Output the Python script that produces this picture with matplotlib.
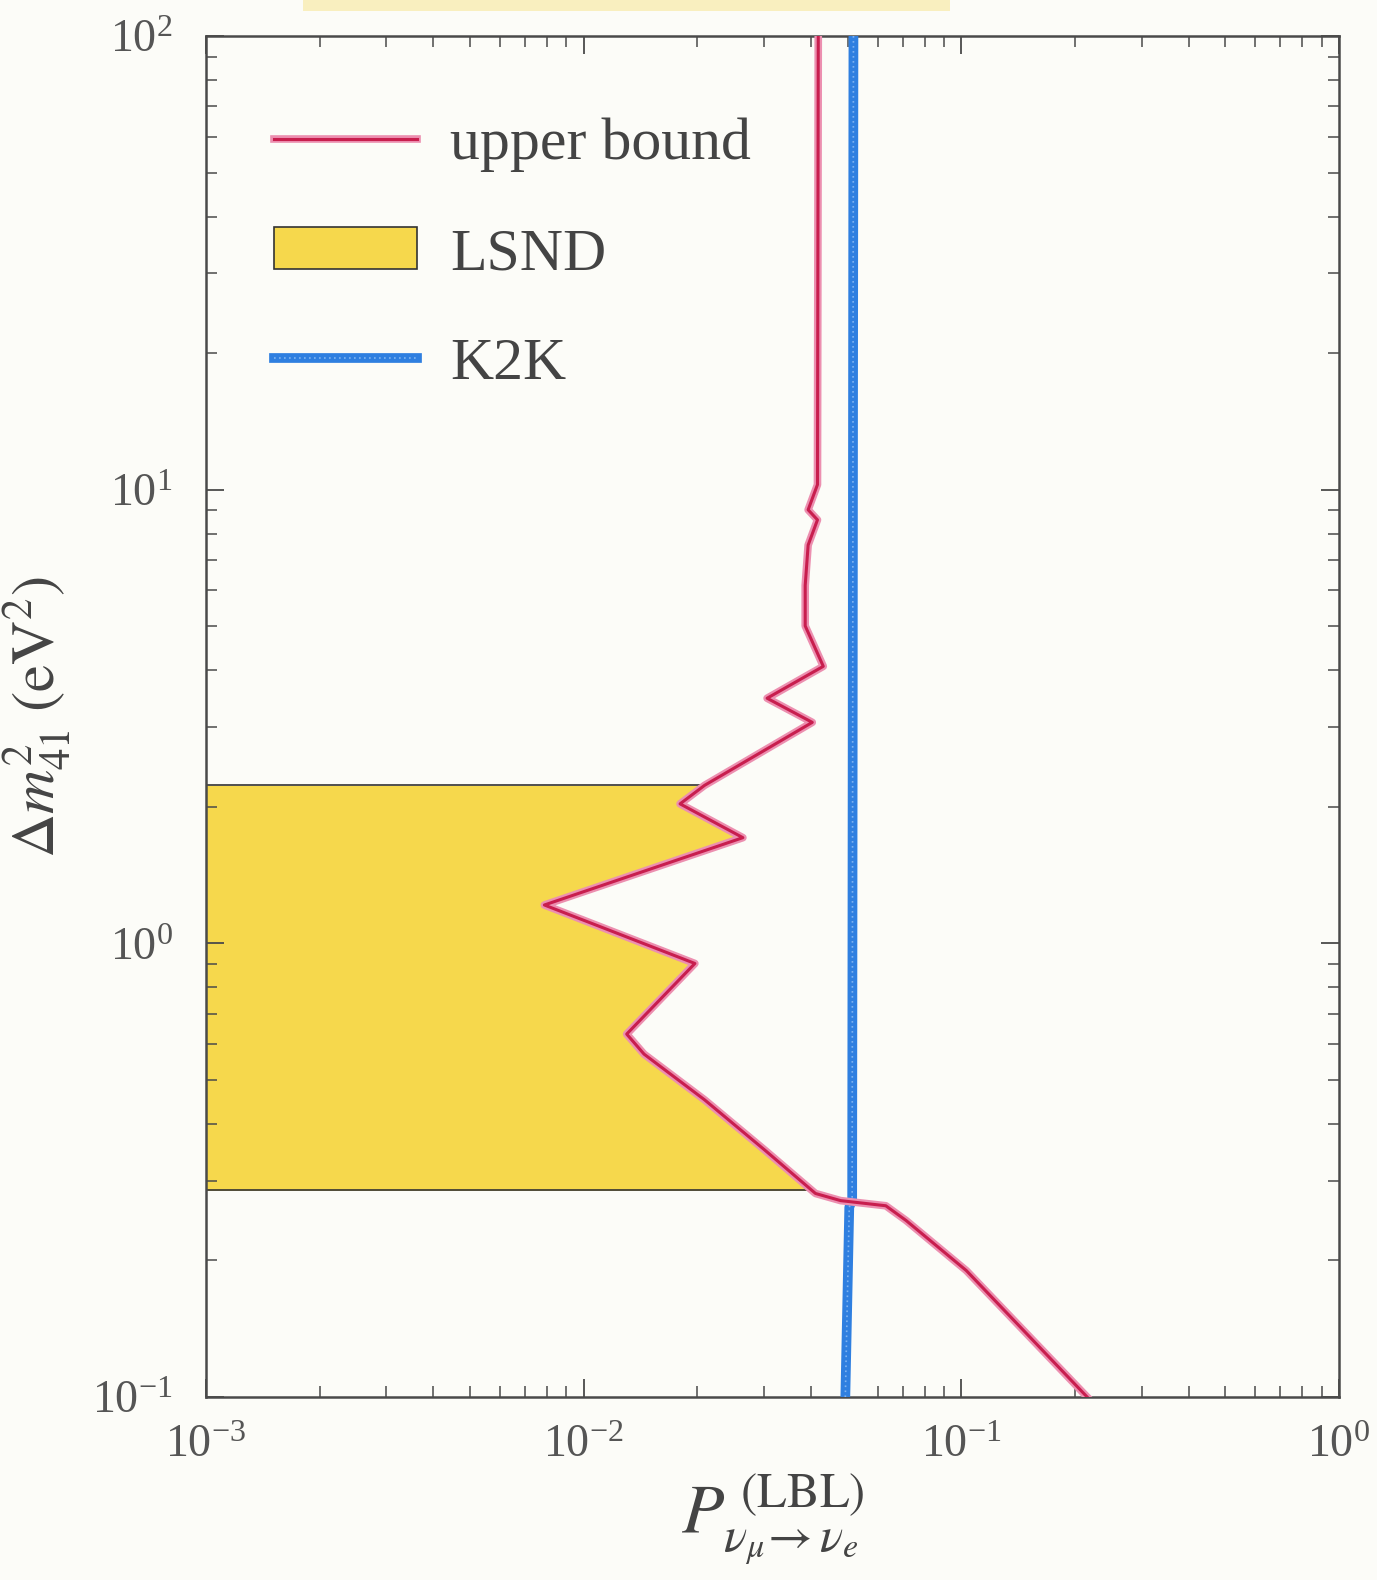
import numpy as np
import matplotlib
matplotlib.use("Agg")
import matplotlib.pyplot as plt
from matplotlib.patches import Rectangle
from matplotlib.lines import Line2D
from matplotlib.legend_handler import HandlerTuple

plt.rcParams['font.family'] = ['Liberation Serif', 'DejaVu Serif']
plt.rcParams['mathtext.fontset'] = 'stix'
plt.rcParams['axes.unicode_minus'] = False

# upper bound curve (P, dm2)
ub_p = [0.0418, 0.0416, 0.0393, 0.0416, 0.0393, 0.0386, 0.0386, 0.0431, 0.0306, 0.0403,
        0.0209, 0.0180, 0.0264, 0.00787, 0.0197, 0.0130, 0.01445, 0.0209, 0.0302, 0.0411,
        0.0479, 0.0631, 0.0714, 0.1031, 0.2154]
ub_dm2 = [100, 10.26, 9.03, 8.58, 7.55, 6.15, 5.01, 4.08, 3.47, 3.07,
          2.23, 2.03, 1.71, 1.215, 0.903, 0.631, 0.570, 0.452, 0.350, 0.281,
          0.271, 0.264, 0.245, 0.190, 0.1]
# K2K line
k2k_p = [0.0518, 0.0514, 0.0505, 0.0493]
k2k_dm2 = [100, 0.272, 0.262, 0.1]
# LSND band limits in dm2
lsnd_dm2 = [0.2855, 2.23]

labels = ['upper bound', 'LSND', 'K2K']

ink = '#4a4a4a'
bg = '#fcfcf8'
fig = plt.figure(figsize=(13.77, 15.80), dpi=100, facecolor=bg)
ax = fig.add_axes([0.1496, 0.1158, 0.9724 - 0.1496, 0.9772 - 0.1158])
ax.set_facecolor(bg)
ax.set_xscale('log')
ax.set_yscale('log')
ax.set_xlim(1e-3, 1)
ax.set_ylim(0.1, 100)

# LSND band: between lsnd limits, from 1e-3 to the upper-bound curve
ly = np.log10(np.array(ub_dm2)[::-1])
lx = np.log10(np.array(ub_p)[::-1])
ys = np.logspace(np.log10(lsnd_dm2[0]), np.log10(lsnd_dm2[1]), 800)
xs = 10 ** np.interp(np.log10(ys), ly, lx)
ax.fill_betweenx(ys, 1e-3, xs, color='#f6d84c', lw=0, zorder=1)
xt = 10 ** np.interp(np.log10(lsnd_dm2[1]), ly, lx)
xb = 10 ** np.interp(np.log10(lsnd_dm2[0]), ly, lx)
ax.plot([1e-3, xt], [lsnd_dm2[1]] * 2, color='#333333', lw=1.2, zorder=2)
ax.plot([1e-3, xb], [lsnd_dm2[0]] * 2, color='#333333', lw=1.2, zorder=2)

# K2K
ax.plot(k2k_p, k2k_dm2, color='#2f7fe0', lw=7, zorder=3, solid_capstyle='butt')
ax.plot(k2k_p, k2k_dm2, color='#7fb3f0', lw=1.2, ls=(0, (1, 2)), zorder=3)

# upper bound
ax.plot(ub_p, ub_dm2, color='#ec8fb0', lw=5.5, zorder=4, solid_joinstyle='round')
ax.plot(ub_p, ub_dm2, color='#c81e4e', lw=2.2, zorder=5, solid_joinstyle='round')

for s in ax.spines.values():
    s.set_color(ink)
    s.set_linewidth(1.8)
ax.tick_params(which='both', direction='in', top=True, right=True, colors=ink,
               labelcolor='#555555', labelsize=33)
ax.tick_params(which='major', length=13, width=1.3, pad=20)
ax.tick_params(which='minor', length=8, width=1.1)
ax.yaxis.set_tick_params(pad=24)

ax.set_xlabel(r'$P_{\nu_\mu\!\rightarrow\nu_e}^{\;(\mathrm{LBL})}$', fontsize=50, color='#444444', labelpad=4)
ax.set_ylabel(r'$\Delta m^2_{41}\;(\mathrm{eV}^2)$', fontsize=44, color='#444444', labelpad=14)

# legend
h_ub = (Line2D([], [], color='#ec8fb0', lw=5.5), Line2D([], [], color='#c81e4e', lw=2.2))
h_ls = Rectangle((0, 0), 1, 1, facecolor='#f6d84c', edgecolor='#333333', lw=1.2)
h_k2k = (Line2D([], [], color='#2f7fe0', lw=7), Line2D([], [], color='#7fb3f0', lw=1.2, ls=(0, (1, 2))))
leg = ax.legend([h_ub, h_ls, h_k2k], labels, loc='upper left', bbox_to_anchor=(0.06, 0.94),
                frameon=False, fontsize=43, labelspacing=0.92, handlelength=2.4,
                handleheight=0.7, handletextpad=0.55, borderpad=0, borderaxespad=0,
                handler_map={tuple: HandlerTuple(ndivide=1, pad=0)})
for t in leg.get_texts():
    t.set_color('#444444')

# faint yellow smudge above plot
fig.patches.append(Rectangle((0.22, 0.993), 0.47, 0.01, transform=fig.transFigure,
                             facecolor='#f8e79a', edgecolor='none', alpha=0.6))

fig.savefig('out.png', dpi=100, facecolor=bg)
